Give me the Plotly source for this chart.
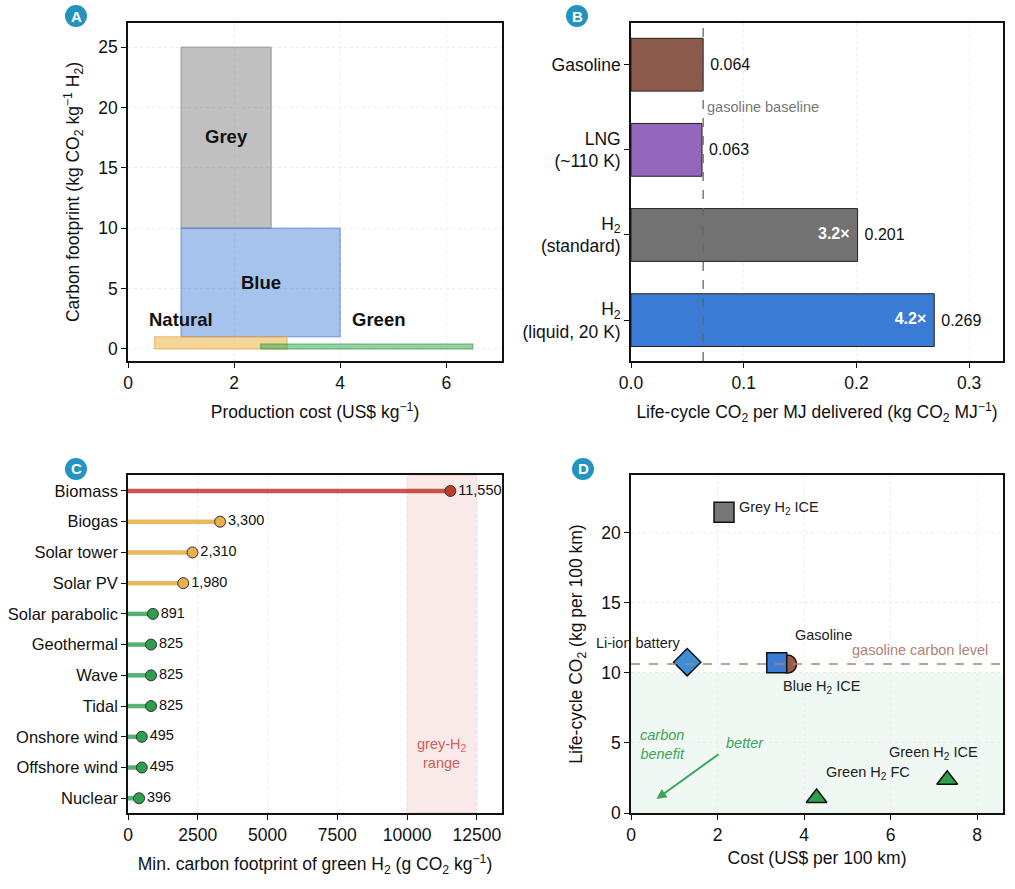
import plotly.graph_objects as go

W, H = 1015, 889
FONT = "Liberation Sans, Arial, sans-serif"

# ---- panel A: production routes
h2_types = ["Grey", "Blue", "Natural", "Green"]
cost_lo = [1.0, 1.0, 0.5, 2.5]
cost_hi = [2.7, 4.0, 3.0, 6.5]
co2_lo = [10, 1, 0, 0]
co2_hi = [25, 10, 1, 0.4]

# ---- panel B: life-cycle CO2 per MJ
fuels = ["Gasoline", "LNG<br>(~110 K)", "H<sub>2</sub><br>(standard)",
         "H<sub>2</sub><br>(liquid, 20 K)"]
co2_per_mj = [0.064, 0.063, 0.201, 0.269]
ratio_labels = ["", "", "3.2×", "4.2×"]
gasoline_baseline = 0.064

# ---- panel C: min footprint of green H2
sources = ["Biomass", "Biogas", "Solar tower", "Solar PV", "Solar parabolic",
           "Geothermal", "Wave", "Tidal", "Onshore wind", "Offshore wind", "Nuclear"]
min_footprint = [11550, 3300, 2310, 1980, 891, 825, 825, 825, 495, 495, 396]
grey_h2_range = [10000, 12500]

# ---- panel D: cost vs CO2 per 100 km
vehicles = ["Grey H<sub>2</sub> ICE", "Li-ion battery", "Gasoline",
            "Blue H<sub>2</sub> ICE", "Green H<sub>2</sub> FC", "Green H<sub>2</sub> ICE"]
cost_100km = [2.15, 1.3, 3.62, 3.37, 4.29, 7.31]
co2_100km = [21.45, 10.75, 10.62, 10.72, 1.07, 2.37]
gasoline_level = 10.62
benefit_zone = [0, 10.0]

# styles
a_fill = ["rgba(140,140,140,0.55)", "rgba(70,130,220,0.48)",
          "rgba(235,180,70,0.55)", "rgba(50,160,80,0.5)"]
a_line = ["rgba(130,130,130,0.5)", "rgba(70,120,210,0.5)",
          "rgba(225,165,60,0.5)", "rgba(50,160,80,0.5)"]
a_label_xy = [(1.86, 17.6), (2.5, 5.5), (1.0, 2.45), (4.72, 2.45)]
b_colors = ["#8c5a4a", "#9467bd", "#727272", "#3a7bd5"]
c_colors = ["#c0392b"] + ["#e8b04a"] * 3 + ["#2e9e4f"] * 7
c_lines = ["rgba(192,57,43,0.85)"] + ["rgba(232,176,74,0.9)"] * 3 + ["rgba(46,158,79,0.8)"] * 7
d_symbols = ["square", "diamond", "circle", "square", "triangle-up", "triangle-up"]
d_colors = ["#777777", "#3a8fd6", "#9c5b4b", "#3a7bd5", "#2e9e4f", "#2e9e4f"]
d_sizes = [20, 21, 18, 20, 18, 18]
d_label_xy = [(2.45, 21.75, "left"), (0.17, 12.1, "center"), (4.45, 12.7, "center"),
              (4.42, 9.0, "center"), (5.49, 2.85, "center"), (7.0, 4.27, "center")]

SP = "\u2002"  # en space used as label padding

fig = go.Figure()

# panel A
for i, name in enumerate(h2_types):
    fig.add_trace(go.Scatter(
        x=[cost_lo[i], cost_hi[i], cost_hi[i], cost_lo[i], cost_lo[i]],
        y=[co2_lo[i], co2_lo[i], co2_hi[i], co2_hi[i], co2_lo[i]],
        fill="toself", fillcolor=a_fill[i], mode="lines",
        line=dict(color=a_line[i], width=1.5), xaxis="x", yaxis="y",
        hoverinfo="skip"))
    fig.add_annotation(x=a_label_xy[i][0], y=a_label_xy[i][1], xref="x", yref="y",
                       text="<b>%s</b>" % name, showarrow=False,
                       font=dict(size=18.5, color="#111"))

# panel B
fig.add_trace(go.Bar(
    x=co2_per_mj, y=fuels, orientation="h", width=0.62,
    marker=dict(color=b_colors, line=dict(color="#222", width=1)),
    text=["\u2005%.3f" % v for v in co2_per_mj], textposition="outside",
    textfont=dict(size=16, color="#111"), cliponaxis=False,
    xaxis="x2", yaxis="y2"))
fig.add_trace(go.Scatter(
    x=co2_per_mj, y=fuels, mode="text",
    text=["<b>%s</b>%s" % (t, SP) if t else "" for t in ratio_labels],
    textposition="middle left", textfont=dict(size=16, color="white"),
    xaxis="x2", yaxis="y2"))
fig.add_shape(type="line", x0=gasoline_baseline, x1=gasoline_baseline, y0=0, y1=1,
              xref="x2", yref="y2 domain", line=dict(color="#666", width=1.3, dash="dash"))
fig.add_annotation(x=gasoline_baseline, y=0.5, xref="x2", yref="y2", xanchor="left",
                   xshift=2, text="gasoline baseline", showarrow=False,
                   font=dict(size=14.5, color="#777"))

# panel C
fig.add_shape(type="rect", x0=grey_h2_range[0], x1=grey_h2_range[1], y0=0, y1=1,
              xref="x3", yref="y3 domain",
              fillcolor="rgba(215,110,110,0.15)", line=dict(color="rgba(215,110,110,0.2)", width=1),
              layer="below")
for i, s in enumerate(sources):
    fig.add_trace(go.Scatter(x=[0, min_footprint[i]], y=[s, s], mode="lines",
                             line=dict(color=c_lines[i], width=4.5),
                             xaxis="x3", yaxis="y3", hoverinfo="skip"))
fig.add_trace(go.Scatter(
    x=min_footprint, y=sources, mode="markers+text",
    marker=dict(size=11, color=c_colors, line=dict(color="#333", width=1)),
    text=["{:,}".format(v) for v in min_footprint], textposition="middle right",
    textfont=dict(size=14.5, color="#111"), cliponaxis=False,
    xaxis="x3", yaxis="y3"))
fig.add_annotation(x=sum(grey_h2_range) / 2, y=8.55, xref="x3", yref="y3",
                   text="grey-H<sub>2</sub><br>range", showarrow=False,
                   font=dict(size=14.5, color="#d0605a"))

# panel D
fig.add_shape(type="rect", y0=benefit_zone[0], y1=benefit_zone[1], x0=0, x1=1,
              xref="x4 domain", yref="y4",
              fillcolor="rgba(60,170,100,0.08)", line_width=0, layer="below")
fig.add_shape(type="line", x0=0, x1=1, y0=gasoline_level, y1=gasoline_level,
              xref="x4 domain", yref="y4",
              line=dict(color="#b08373", width=1.4, dash="dash"))
for i, v in enumerate(vehicles):
    fig.add_trace(go.Scatter(
        x=[cost_100km[i]], y=[co2_100km[i]], mode="markers",
        marker=dict(symbol=d_symbols[i], size=d_sizes[i], color=d_colors[i],
                    line=dict(color="#111", width=1.5)),
        xaxis="x4", yaxis="y4", cliponaxis=False))
    lx, ly, anc = d_label_xy[i]
    fig.add_annotation(x=lx, y=ly, xref="x4", yref="y4", xanchor=anc, text=v,
                       showarrow=False, font=dict(size=14.5, color="#222"))
fig.add_annotation(x=8.3, y=11.6, xref="x4", yref="y4", xanchor="right",
                   text="gasoline carbon level", showarrow=False,
                   font=dict(size=14.5, color="#b08373"))
fig.add_annotation(x=0.59, y=1.0, ax=2.06, ay=4.27, xref="x4", yref="y4",
                   axref="x4", ayref="y4", showarrow=True, arrowhead=2,
                   arrowsize=1, arrowwidth=2, arrowcolor="#3aa65a", text="")
fig.add_annotation(x=2.64, y=4.98, xref="x4", yref="y4", text="<i>better</i>",
                   showarrow=False, font=dict(size=14.5, color="#3aa65a"))
fig.add_annotation(x=0.72, y=4.9, xref="x4", yref="y4", text="<i>carbon<br>benefit</i>",
                   showarrow=False, font=dict(size=14.5, color="#3aa65a"))

# panel badges
for letter, (px, py) in zip("ABCD", [(76, 16), (577, 16), (76, 469), (583, 469)]):
    fig.add_shape(type="circle", xref="paper", yref="paper",
                  x0=(px - 11) / W, x1=(px + 11) / W,
                  y0=1 - (py + 11) / H, y1=1 - (py - 11) / H,
                  fillcolor="#2593c0", line=dict(color="#2593c0", width=0))
    fig.add_annotation(x=px / W, y=1 - py / H, xref="paper", yref="paper",
                       xanchor="center", yanchor="middle",
                       text="<b>%s</b>" % letter, showarrow=False,
                       font=dict(size=15, color="white"))


def ax(domain, title, standoff=14, **kw):
    d = dict(domain=domain, showline=True, linecolor="#111", linewidth=1.6, mirror=True,
             ticks="outside", ticklen=5, tickcolor="#111", tickfont=dict(size=17.5, color="#111"),
             showgrid=True, gridcolor="#ececec", griddash="dot", gridwidth=1, zeroline=False,
             automargin=False,
             title=dict(text=title, font=dict(size=17.5, color="#111"), standoff=standoff))
    d.update(kw)
    return d


xa = [128 / W, 502 / W]
xb = [631 / W, 1003 / W]
ytop = [1 - 361 / H, 1 - 23 / H]
ybot = [1 - 813 / H, 1 - 475 / H]

fig.update_layout(
    width=W, height=H, margin=dict(l=0, r=0, t=0, b=0, autoexpand=False),
    paper_bgcolor="white", plot_bgcolor="white", showlegend=False,
    font=dict(family=FONT, color="#111"),
    xaxis=ax(xa, "Production cost (US$ kg<sup>−1</sup>)", anchor="y", range=[0, 7.05],
             tickvals=[0, 2, 4, 6]),
    yaxis=ax(ytop, "Carbon footprint (kg CO<sub>2</sub> kg<sup>−1</sup> H<sub>2</sub>)",
             anchor="x", range=[-1, 27], tickvals=[0, 5, 10, 15, 20, 25]),
    xaxis2=ax(xb, "Life-cycle CO<sub>2</sub> per MJ delivered (kg CO<sub>2</sub> MJ<sup>−1</sup>)",
              anchor="y2", range=[0, 0.33], tickvals=[0, 0.1, 0.2, 0.3], tickformat=".1f"),
    yaxis2=ax(ytop, "", anchor="x2", range=[3.48, -0.49], showgrid=False,
              type="category", categoryorder="array", categoryarray=fuels),
    xaxis3=ax(xa, "Min. carbon footprint of green H<sub>2</sub> (g CO<sub>2</sub> kg<sup>−1</sup>)",
              anchor="y3", range=[0, 13400], tickvals=[0, 2500, 5000, 7500, 10000, 12500],
              tickformat="d"),
    yaxis3=ax(ybot, "", anchor="x3", range=[10.48, -0.52], showgrid=False,
              type="category", categoryorder="array", categoryarray=sources,
              tickfont=dict(size=16.5, color="#111")),
    xaxis4=ax(xb, "Cost (US$ per 100 km)", standoff=8, anchor="y4", range=[0, 8.6],
              tickvals=[0, 2, 4, 6, 8]),
    yaxis4=ax(ybot, "Life-cycle CO<sub>2</sub> (kg per 100 km)", anchor="x4",
              range=[0, 24.1], tickvals=[0, 5, 10, 15, 20]),
)

fig.write_html("out.html", config={"displayModeBar": False},
               post_script="document.body.style.margin = '0px';")
